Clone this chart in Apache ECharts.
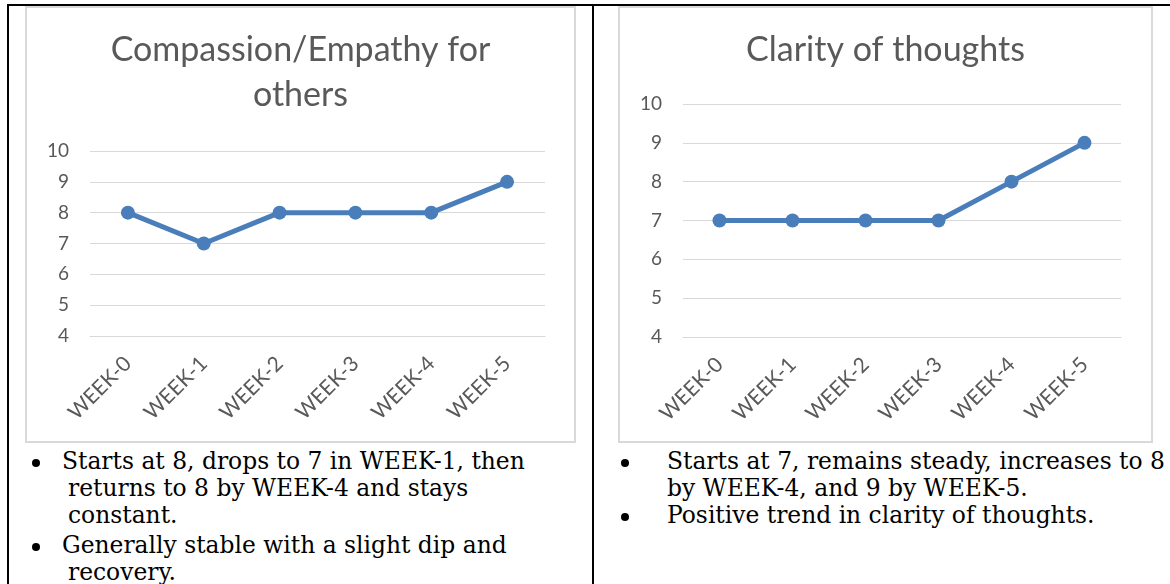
<!DOCTYPE html>
<html>
<head>
<meta charset="utf-8">
<script src="https://cdn.jsdelivr.net/npm/echarts@6/dist/echarts.min.js"></script>
<style>
  html, body { margin: 0; padding: 0; background: #fff; }
  #page { position: relative; width: 1170px; height: 584px; overflow: hidden; }
  .rule { position: absolute; background: #000; }
  .box { position: absolute; border: 2px solid #d9d9d9; box-sizing: border-box; background: #fff; }
  .notes { position: absolute; font-family: "DejaVu Serif", "Liberation Serif", serif; font-size: 23.4px; color: #000; }
  .notes p { position: relative; margin: 0; line-height: 27px; white-space: nowrap; }
  .notes .dot { position: absolute; top: 11px; width: 8px; height: 8px; border-radius: 50%; background: #000; }
</style>
</head>
<body>
<div id="page">
  <div class="rule" style="left:7px; top:4px; width:1163px; height:2px;"></div>
  <div class="rule" style="left:7px; top:4px; width:2px; height:580px;"></div>
  <div class="rule" style="left:592px; top:4px; width:2px; height:580px;"></div>

  <div class="box" id="chartLeft" style="left:25px; top:6px; width:551px; height:437px;"></div>
  <div class="box" id="chartRight" style="left:618px; top:6px; width:535px; height:437px;"></div>

  <div class="notes" id="notesLeft" style="left:0px; top:448px; width:590px;">
    <p style="padding-left:68px;"><span class="dot" style="left:32px;"></span><span style="margin-left:-6px;">Starts at 8, drops to 7 in WEEK-1, then</span><br>returns to 8 by WEEK-4 and stays<br>constant.</p>
    <p style="padding-left:68px; margin-top:3px;"><span class="dot" style="left:32px;"></span><span style="margin-left:-6px;">Generally stable with a slight dip and</span><br>recovery.</p>
  </div>
  <div class="notes" id="notesRight" style="left:594px; top:448px; width:576px;">
    <p style="padding-left:73px;"><span class="dot" style="left:27px;"></span>Starts at 7, remains steady, increases to 8<br>by WEEK-4, and 9 by WEEK-5.</p>
    <p style="padding-left:73px;"><span class="dot" style="left:27px;"></span>Positive trend in clarity of thoughts.</p>
  </div>
</div>

<script>
var weeks = ['WEEK-0', 'WEEK-1', 'WEEK-2', 'WEEK-3', 'WEEK-4', 'WEEK-5'];
var compassion = [8, 7, 8, 8, 8, 9];
var clarity = [7, 7, 7, 7, 8, 9];
var yMin = 4;
var yMax = 10;

var gray = '#595959';

// one option builder for both little charts
function getOption(title, values, grid) {
    return {
        animation: false,
        title: {
            text: title,
            left: 'center',
            top: grid.titleTop,
            textStyle: {
                fontFamily: 'Lato',
                fontWeight: 'normal',
                fontSize: 34,
                lineHeight: 45,
                color: gray
            }
        },
        grid: {
            left: grid.left,
            top: grid.top,
            width: grid.width,
            height: grid.height
        },
        xAxis: {
            type: 'category',
            data: weeks,
            boundaryGap: true,
            axisLine: { show: true, lineStyle: { color: '#d9d9d9', width: 1 } },
            axisTick: { show: false },
            axisLabel: {
                rotate: 45,
                margin: 24,
                fontFamily: 'Lato',
                fontSize: 21,
                color: gray
            }
        },
        yAxis: {
            type: 'value',
            min: yMin,
            max: yMax,
            interval: 1,
            axisLine: { show: false },
            axisTick: { show: false },
            splitLine: { lineStyle: { color: '#d9d9d9', width: 1 } },
            axisLabel: {
                margin: 21,
                fontFamily: 'Lato',
                fontSize: 19,
                color: gray
            }
        },
        series: [{
            type: 'line',
            data: values,
            symbol: 'circle',
            symbolSize: 14,
            color: '#4a7ebb',
            lineStyle: { width: 5, color: '#4a7ebb' },
            itemStyle: { color: '#4a7ebb' }
        }]
    };
}

var leftChart = echarts.init(document.getElementById('chartLeft'));
leftChart.setOption(getOption('Compassion/Empathy for\nothers', compassion,
    { titleTop: 15, left: 63, top: 143, width: 455, height: 185 }));

var rightChart = echarts.init(document.getElementById('chartRight'));
rightChart.setOption(getOption('Clarity of thoughts', clarity,
    { titleTop: 15, left: 63, top: 96, width: 438, height: 233 }));
</script>
</body>
</html>
